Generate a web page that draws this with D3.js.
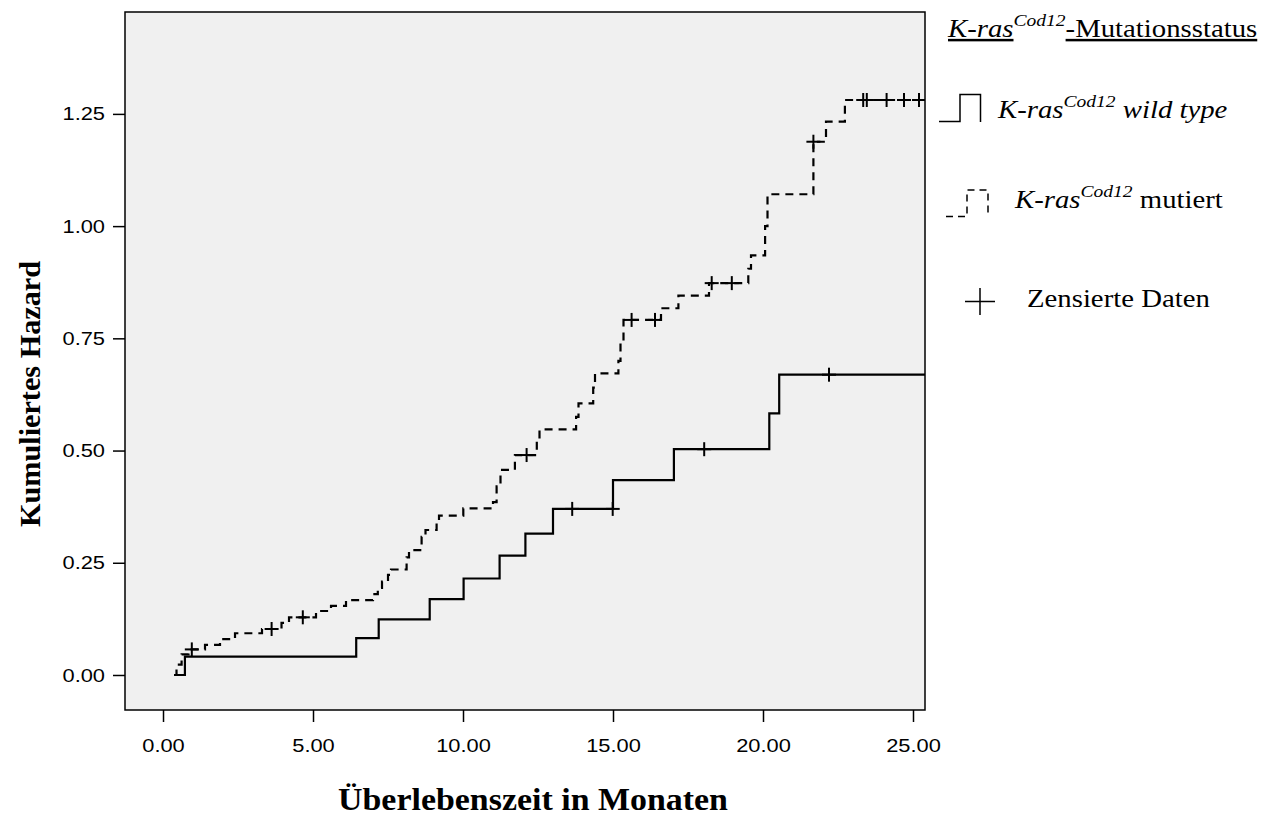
<!DOCTYPE html>
<html>
<head>
<meta charset="utf-8">
<script src="https://cdn.jsdelivr.net/npm/d3@7"></script>
<style>
  body { margin: 0; background: #fff; }
  .tick text { font-family: "Liberation Sans", Arial, sans-serif; font-size: 19px; fill: #000; }
  .tick line { stroke: #000; stroke-width: 1.5px; }
</style>
</head>
<body>
<svg id="chart" width="1279" height="831"></svg>
<script>
// wild type group: [month, cumulative hazard] at each event step
var wildSteps = [[0.37, 0], [0.73, 0.041], [6.44, 0.082], [7.19, 0.124], [8.89, 0.169],
  [10.02, 0.215], [11.22, 0.266], [12.08, 0.315], [13.0, 0.370], [15.0, 0.434],
  [17.03, 0.503], [20.21, 0.583], [20.54, 0.669]];
var wildCensored = [[13.64, 0.370], [14.99, 0.370], [18.04, 0.503], [22.2, 0.669]];

// mutated group
var mutSteps = [[0.37, 0], [0.45, 0.023], [0.62, 0.046], [0.85, 0.057], [1.4, 0.067],
  [1.9, 0.080], [2.4, 0.093], [3.3, 0.1025], [3.95, 0.116], [4.2, 0.1285],
  [5.1, 0.1426], [5.6, 0.154], [6.1, 0.167], [7.0, 0.180], [7.16, 0.194],
  [7.3, 0.208], [7.5, 0.223], [7.6, 0.235], [8.12, 0.262], [8.2, 0.278],
  [8.62, 0.308], [8.75, 0.323], [9.12, 0.340], [9.2, 0.355], [10.01, 0.371],
  [11.0, 0.385], [11.12, 0.42], [11.25, 0.457], [11.73, 0.49], [12.46, 0.52],
  [12.55, 0.547], [13.77, 0.575], [13.85, 0.605], [14.34, 0.64], [14.4, 0.672],
  [15.18, 0.70], [15.25, 0.74], [15.35, 0.791], [16.6, 0.817], [17.18, 0.845],
  [18.2, 0.873], [19.51, 0.905], [19.6, 0.935], [20.07, 1.0], [20.15, 1.071],
  [21.68, 1.188], [22.1, 1.233], [22.73, 1.281]];
var mutCensored = [[0.96, 0.057], [3.62, 0.1025], [4.66, 0.1285], [12.12, 0.49],
  [15.62, 0.791], [16.4, 0.791], [18.29, 0.873], [18.96, 0.873], [21.68, 1.188],
  [23.34, 1.281], [23.46, 1.281], [24.12, 1.281], [24.7, 1.281], [25.2, 1.281]];

var xTicks = [0, 5, 10, 15, 20, 25];
var yTicks = [0, 0.25, 0.5, 0.75, 1.0, 1.25];
var xDomain = [-1.267, 25.4];
var yDomain = [-0.078, 1.477];

var svg = d3.select("#chart");
var plot = {left: 125, right: 925, top: 12, bottom: 710};
var stretch = 1.15; // the original picture is slightly wider than tall

var x = d3.scaleLinear().domain(xDomain).range([plot.left, plot.right]);
var y = d3.scaleLinear().domain(yDomain).range([plot.bottom, plot.top]);

svg.append("defs").append("clipPath").attr("id", "clip")
  .append("rect")
  .attr("x", plot.left).attr("y", plot.top)
  .attr("width", plot.right - plot.left).attr("height", plot.bottom - plot.top);

// plot background
svg.append("rect")
  .attr("x", plot.left).attr("y", plot.top)
  .attr("width", plot.right - plot.left).attr("height", plot.bottom - plot.top)
  .attr("fill", "#f0f0f0")
  .attr("stroke", "none");

// axes
var xAxis = svg.append("g")
  .attr("transform", "translate(0," + plot.bottom + ")")
  .call(d3.axisBottom(x).tickValues(xTicks).tickFormat(d3.format(".2f")).tickSize(12).tickPadding(17));
xAxis.select(".domain").remove();
xAxis.selectAll(".tick text").attr("transform", "scale(" + stretch + ",1)");

var yAxis = svg.append("g")
  .attr("transform", "translate(" + plot.left + ",0)")
  .call(d3.axisLeft(y).tickValues(yTicks).tickFormat(d3.format(".2f")).tickSize(12).tickPadding(8));
yAxis.select(".domain").remove();
yAxis.selectAll(".tick text")
  .attr("x", -20 / stretch)
  .attr("transform", "scale(" + stretch + ",1)");

// frame
svg.append("rect")
  .attr("x", plot.left).attr("y", plot.top)
  .attr("width", plot.right - plot.left).attr("height", plot.bottom - plot.top)
  .attr("fill", "none")
  .attr("stroke", "#000")
  .attr("stroke-width", 1.5);

var stepLine = d3.line()
  .x(function(d) { return x(d[0]); })
  .y(function(d) { return y(d[1]); })
  .curve(d3.curveStepAfter);

var g = svg.append("g").attr("clip-path", "url(#clip)");

function drawSeries(steps, censored, dashed) {
  var pts = steps.concat([[xDomain[1] + 0.5, steps[steps.length - 1][1]]]);
  g.append("path")
    .datum(pts)
    .attr("fill", "none")
    .attr("stroke", "#000")
    .attr("stroke-width", 2.2)
    .attr("stroke-dasharray", dashed ? "8,6" : null)
    .attr("d", stepLine);

  var marks = g.selectAll(null).data(censored).enter().append("g")
    .attr("transform", function(d) { return "translate(" + x(d[0]) + "," + y(d[1]) + ")"; });
  marks.append("line")
    .attr("x1", 0).attr("x2", 0).attr("y1", -7).attr("y2", 7)
    .attr("stroke", "#000").attr("stroke-width", 2);
  marks.append("line")
    .attr("x1", -7).attr("x2", 7).attr("y1", 0).attr("y2", 0)
    .attr("stroke", "#000").attr("stroke-width", 2);
}

drawSeries(wildSteps, wildCensored, false);
drawSeries(mutSteps, mutCensored, true);

// axis titles
var serif = "Liberation Serif, Times New Roman, serif";
svg.append("text")
  .attr("x", 533).attr("y", 810)
  .attr("text-anchor", "middle")
  .attr("font-family", serif)
  .attr("font-weight", "bold")
  .attr("font-size", "31px")
  .attr("textLength", 390)
  .attr("lengthAdjust", "spacingAndGlyphs")
  .text("Überlebenszeit in Monaten");

svg.append("text")
  .attr("transform", "translate(40,394) rotate(-90)")
  .attr("text-anchor", "middle")
  .attr("font-family", serif)
  .attr("font-weight", "bold")
  .attr("font-size", "30px")
  .attr("textLength", 266)
  .attr("lengthAdjust", "spacingAndGlyphs")
  .text("Kumuliertes Hazard");

// legend
function legendText(px, py) {
  return svg.append("text")
    .attr("transform", "translate(" + px + "," + py + ") scale(" + stretch + ",1)")
    .attr("font-family", serif).attr("font-size", "25px");
}

var title = legendText(948, 37);
title.append("tspan").attr("font-style", "italic").attr("text-decoration", "underline").text("K-ras");
title.append("tspan").attr("font-style", "italic").attr("font-size", "17px").attr("dy", -11).text("Cod12");
title.append("tspan").attr("dy", 11).attr("text-decoration", "underline").text("-Mutationsstatus");

var t1 = legendText(998, 118).attr("font-style", "italic");
t1.append("tspan").text("K-ras");
t1.append("tspan").attr("font-size", "17px").attr("dy", -11).text("Cod12");
t1.append("tspan").attr("dy", 11).text(" wild type");

var t2 = legendText(1015, 208);
t2.append("tspan").attr("font-style", "italic").text("K-ras");
t2.append("tspan").attr("font-style", "italic").attr("font-size", "17px").attr("dy", -11).text("Cod12");
t2.append("tspan").attr("dy", 11).text(" mutiert");

legendText(1027, 307).text("Zensierte Daten");

// legend symbols
svg.append("path")
  .attr("d", "M939,121.5 H960 V94.5 H980.5 V122")
  .attr("fill", "none").attr("stroke", "#000").attr("stroke-width", 1.5);
svg.append("path")
  .attr("d", "M946,216.5 H967 V190 H988 V216")
  .attr("fill", "none").attr("stroke", "#000").attr("stroke-width", 1.5)
  .attr("stroke-dasharray", "7,5");
svg.append("path")
  .attr("d", "M965,301.5 H995 M980,288 V315")
  .attr("fill", "none").attr("stroke", "#000").attr("stroke-width", 1.5);
</script>
</body>
</html>
